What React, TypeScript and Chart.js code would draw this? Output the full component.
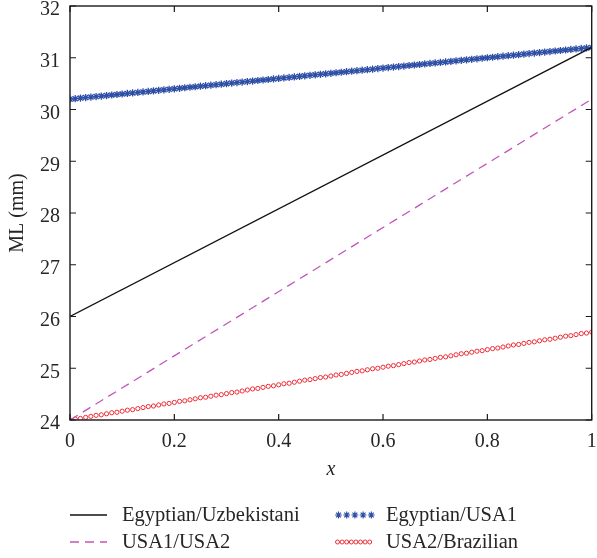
import { useEffect, useRef } from 'react';
import { Chart, registerables } from 'chart.js';
Chart.register(...registerables);

const FONT = '"Liberation Serif", "DejaVu Serif", serif';
const TEXT = '#262626';

const X_TICKS = [0, 0.2, 0.4, 0.6, 0.8, 1];
const Y_TICKS = [24, 25, 26, 27, 28, 29, 30, 31, 32];

const X_ENDS = [0, 1];
const EGY_UZB = [26.0, 31.2];
const USA1_USA2 = [24.0, 30.2];

const X_FINE = [
  0.00, 0.01, 0.02, 0.03, 0.04, 0.05, 0.06, 0.07, 0.08, 0.09,
  0.10, 0.11, 0.12, 0.13, 0.14, 0.15, 0.16, 0.17, 0.18, 0.19,
  0.20, 0.21, 0.22, 0.23, 0.24, 0.25, 0.26, 0.27, 0.28, 0.29,
  0.30, 0.31, 0.32, 0.33, 0.34, 0.35, 0.36, 0.37, 0.38, 0.39,
  0.40, 0.41, 0.42, 0.43, 0.44, 0.45, 0.46, 0.47, 0.48, 0.49,
  0.50, 0.51, 0.52, 0.53, 0.54, 0.55, 0.56, 0.57, 0.58, 0.59,
  0.60, 0.61, 0.62, 0.63, 0.64, 0.65, 0.66, 0.67, 0.68, 0.69,
  0.70, 0.71, 0.72, 0.73, 0.74, 0.75, 0.76, 0.77, 0.78, 0.79,
  0.80, 0.81, 0.82, 0.83, 0.84, 0.85, 0.86, 0.87, 0.88, 0.89,
  0.90, 0.91, 0.92, 0.93, 0.94, 0.95, 0.96, 0.97, 0.98, 0.99,
  1.00,
];

const EGY_USA1 = [
  30.20, 30.21, 30.22, 30.23, 30.24, 30.25, 30.26, 30.27, 30.28, 30.29,
  30.30, 30.31, 30.32, 30.33, 30.34, 30.35, 30.36, 30.37, 30.38, 30.39,
  30.40, 30.41, 30.42, 30.43, 30.44, 30.45, 30.46, 30.47, 30.48, 30.49,
  30.50, 30.51, 30.52, 30.53, 30.54, 30.55, 30.56, 30.57, 30.58, 30.59,
  30.60, 30.61, 30.62, 30.63, 30.64, 30.65, 30.66, 30.67, 30.68, 30.69,
  30.70, 30.71, 30.72, 30.73, 30.74, 30.75, 30.76, 30.77, 30.78, 30.79,
  30.80, 30.81, 30.82, 30.83, 30.84, 30.85, 30.86, 30.87, 30.88, 30.89,
  30.90, 30.91, 30.92, 30.93, 30.94, 30.95, 30.96, 30.97, 30.98, 30.99,
  31.00, 31.01, 31.02, 31.03, 31.04, 31.05, 31.06, 31.07, 31.08, 31.09,
  31.10, 31.11, 31.12, 31.13, 31.14, 31.15, 31.16, 31.17, 31.18, 31.19,
  31.20,
];

const USA2_BRA = [
  24.00, 24.02, 24.03, 24.05, 24.07, 24.09, 24.10, 24.12, 24.14, 24.15,
  24.17, 24.19, 24.20, 24.22, 24.24, 24.26, 24.27, 24.29, 24.31, 24.32,
  24.34, 24.36, 24.37, 24.39, 24.41, 24.43, 24.44, 24.46, 24.48, 24.49,
  24.51, 24.53, 24.54, 24.56, 24.58, 24.60, 24.61, 24.63, 24.65, 24.66,
  24.68, 24.70, 24.71, 24.73, 24.75, 24.77, 24.78, 24.80, 24.82, 24.83,
  24.85, 24.87, 24.88, 24.90, 24.92, 24.94, 24.95, 24.97, 24.99, 25.00,
  25.02, 25.04, 25.05, 25.07, 25.09, 25.11, 25.12, 25.14, 25.16, 25.17,
  25.19, 25.21, 25.22, 25.24, 25.26, 25.28, 25.29, 25.31, 25.33, 25.34,
  25.36, 25.38, 25.39, 25.41, 25.43, 25.45, 25.46, 25.48, 25.50, 25.51,
  25.53, 25.55, 25.56, 25.58, 25.60, 25.62, 25.63, 25.65, 25.67, 25.68,
  25.70,
];

const LABELS = ['Egyptian/Uzbekistani', 'USA1/USA2', 'Egyptian/USA1', 'USA2/Brazilian'];
const BLACK = '#111111';
const MAGENTA = '#c455b8';
const BLUE = '#2f4fa6';
const RED = '#ee2b36';

const zip = (xs: number[], ys: number[]) => xs.map((x, i) => ({ x, y: ys[i] }));

function drawStar(ctx: CanvasRenderingContext2D, x: number, y: number, r: number) {
  ctx.beginPath();
  ctx.moveTo(x - r, y); ctx.lineTo(x + r, y);
  ctx.moveTo(x, y - r); ctx.lineTo(x, y + r);
  const d = r * 0.7071;
  ctx.moveTo(x - d, y - d); ctx.lineTo(x + d, y + d);
  ctx.moveTo(x - d, y + d); ctx.lineTo(x + d, y - d);
  ctx.stroke();
}

const decorPlugin = {
  id: 'decor',
  afterDraw(chart: any) {
    const { ctx, chartArea: a, scales } = chart;
    const xs = scales.x, ys = scales.y;
    ctx.save();
    // frame
    ctx.strokeStyle = '#1a1a1a';
    ctx.lineWidth = 1.4;
    ctx.strokeRect(a.left, a.top, a.right - a.left, a.bottom - a.top);
    // inward ticks
    ctx.lineWidth = 1.2;
    const TL = 6;
    ctx.beginPath();
    X_TICKS.forEach((v) => {
      const px = xs.getPixelForValue(v);
      ctx.moveTo(px, a.bottom); ctx.lineTo(px, a.bottom - TL);
      ctx.moveTo(px, a.top); ctx.lineTo(px, a.top + TL);
    });
    Y_TICKS.forEach((v) => {
      const py = ys.getPixelForValue(v);
      ctx.moveTo(a.left, py); ctx.lineTo(a.left + TL, py);
      ctx.moveTo(a.right, py); ctx.lineTo(a.right - TL, py);
    });
    ctx.stroke();

    // axis titles
    ctx.fillStyle = TEXT;
    ctx.textAlign = 'center';
    ctx.textBaseline = 'middle';
    ctx.font = `italic 20px ${FONT}`;
    ctx.fillText('x', (a.left + a.right) / 2, 470);
    ctx.save();
    ctx.translate(18, (a.top + a.bottom) / 2);
    ctx.rotate(-Math.PI / 2);
    ctx.font = `20px ${FONT}`;
    ctx.fillText('ML (mm)', 0, 0);
    ctx.restore();

    // legend
    const rows = [515, 542];
    const col1 = 70, col2 = 335, sampleW = 37, textGap = 15;
    ctx.font = `20.5px ${FONT}`;
    ctx.textAlign = 'left';
    ctx.textBaseline = 'middle';
    const ds = chart.data.datasets;
    ctx.strokeStyle = ds[0].borderColor;
    ctx.lineWidth = ds[0].borderWidth;
    ctx.setLineDash([]);
    ctx.beginPath(); ctx.moveTo(col1, rows[0]); ctx.lineTo(col1 + sampleW, rows[0]); ctx.stroke();
    ctx.fillText(ds[0].label, col1 + sampleW + textGap, rows[0] + 1);
    ctx.strokeStyle = ds[1].borderColor;
    ctx.lineWidth = ds[1].borderWidth;
    ctx.setLineDash(ds[1].borderDash);
    ctx.beginPath(); ctx.moveTo(col1, rows[1]); ctx.lineTo(col1 + sampleW, rows[1]); ctx.stroke();
    ctx.setLineDash([]);
    ctx.fillText(ds[1].label, col1 + sampleW + textGap, rows[1] + 1);
    ctx.strokeStyle = ds[2].borderColor;
    ctx.lineWidth = 1.2;
    for (let i = 0; i < 5; i++) drawStar(ctx, col2 + 3.5 + i * 8.2, rows[0], 3.4);
    ctx.fillText(ds[2].label, col2 + sampleW + textGap - 1, rows[0] + 1);
    ctx.strokeStyle = ds[3].borderColor;
    ctx.lineWidth = ds[3].borderWidth;
    for (let i = 0; i < 8; i++) {
      ctx.beginPath();
      ctx.arc(col2 + 2.5 + i * 4.6, rows[1], 2, 0, Math.PI * 2);
      ctx.stroke();
    }
    ctx.fillText(ds[3].label, col2 + sampleW + textGap - 1, rows[1] + 1);
    ctx.restore();
  },
};

export default function App() {
  const ref = useRef<HTMLCanvasElement>(null);
  useEffect(() => {
    document.body.style.margin = '0';
    const chart = new Chart(ref.current!, {
      type: 'scatter',
      data: {
        datasets: [
          {
            label: LABELS[0], data: zip(X_ENDS, EGY_UZB), showLine: true,
            borderColor: BLACK, borderWidth: 1.3, pointRadius: 0,
          },
          {
            label: LABELS[1], data: zip(X_ENDS, USA1_USA2), showLine: true,
            borderColor: MAGENTA, borderWidth: 1.3, borderDash: [9, 6], pointRadius: 0,
          },
          {
            label: LABELS[2], data: zip(X_FINE, EGY_USA1), showLine: false,
            borderColor: BLUE, backgroundColor: BLUE, borderWidth: 1.3,
            pointStyle: 'star', pointRadius: 3.6,
          },
          {
            label: LABELS[3], data: zip(X_FINE, USA2_BRA), showLine: false,
            borderColor: RED, backgroundColor: 'rgba(255,255,255,0)', borderWidth: 1,
            pointStyle: 'circle', pointRadius: 2.1,
          },
        ] as any,
      },
      options: {
        responsive: false,
        animation: false,
        devicePixelRatio: 1,
        layout: { padding: { top: 6, right: 2, left: 0, bottom: 0 } },
        plugins: { legend: { display: false }, tooltip: { enabled: false } },
        scales: {
          x: {
            type: 'linear', min: 0, max: 1,
            afterBuildTicks: (s: any) => { s.ticks = X_TICKS.map((v) => ({ value: v })); },
            ticks: {
              color: TEXT, font: { family: FONT, size: 20 }, padding: 10, maxRotation: 0,
              callback: (v: any) => (v === 0 || v === 1 ? String(v) : (Math.round(v * 10) / 10).toFixed(1)),
            },
            grid: { display: false, drawTicks: false },
            border: { display: false },
            afterFit: (s: any) => { s.height = 138; s.paddingLeft = 0; s.paddingRight = 0; },
          },
          y: {
            type: 'linear', min: 24, max: 32,
            afterBuildTicks: (s: any) => { s.ticks = Y_TICKS.map((v) => ({ value: v })); },
            ticks: { color: TEXT, font: { family: FONT, size: 20 }, padding: 10, labelOffset: 4 },
            grid: { display: false, drawTicks: false },
            border: { display: false },
            afterFit: (s: any) => { s.width = 70; s.paddingTop = 0; s.paddingBottom = 0; },
          },
        },
      } as any,
      plugins: [decorPlugin],
    });
    return () => chart.destroy();
  }, []);
  return <canvas ref={ref} width={597} height={558} style={{ display: 'block' }} />;
}
